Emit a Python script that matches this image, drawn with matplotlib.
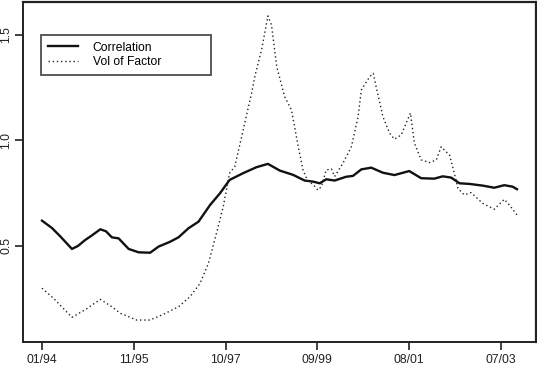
import numpy as np
import matplotlib
matplotlib.use("Agg")
import matplotlib.pyplot as plt

plt.rcParams['font.family'] = ['Liberation Sans', 'DejaVu Sans']

# month index (0 = 01/94) and values
corr_month = [0, 2.5, 4.6, 7.5, 9, 10.8, 12.5, 14.6, 16, 17.5, 19.2, 21.7, 24.2, 27.1,
              29.2, 32.1, 34.2, 36.7, 39.2, 42.1, 44.6, 47, 50.4, 53.7, 56.6, 59.6,
              62.9, 65.8, 67.9, 69.6, 71.2, 73.3, 76.2, 77.9, 80, 82.5, 85.4, 88.3,
              92, 95, 98.3, 100.4, 102.5, 104.6, 107.1, 110.4, 113.3, 115.8, 117.9, 119]
corr_vals = [0.62, 0.585, 0.545, 0.486, 0.50, 0.528, 0.55, 0.579, 0.57, 0.541, 0.536,
             0.486, 0.47, 0.468, 0.497, 0.52, 0.541, 0.584, 0.615, 0.694, 0.75, 0.813,
             0.845, 0.873, 0.889, 0.857, 0.837, 0.81, 0.805, 0.797, 0.816, 0.81, 0.828,
             0.832, 0.863, 0.871, 0.847, 0.836, 0.855, 0.821, 0.819, 0.83, 0.824, 0.797,
             0.794, 0.786, 0.776, 0.788, 0.781, 0.769]

vol_month = [0, 3, 7.5, 11, 14.6, 17.5, 19.6, 21.7, 23.7, 27, 30.4, 34.2, 37.1, 39.6,
             41.7, 43.7, 45.4, 47, 48.3, 50.4, 52.5, 53.4, 55, 56.6, 57.5, 58.8, 60.8,
             62.5, 64.2, 65.4, 66.5, 68, 69.1, 70, 71.2, 72.5, 73.3, 75.4, 77.5, 79.2,
             80, 82.1, 83, 83.7, 85.4, 87.1, 88.3, 90, 92.3, 93.3, 95, 97.1, 98.8, 100,
             101.2, 102.1, 103.3, 104.2, 105.8, 107.5, 110.4, 113.3, 115.8, 117.1, 119]
vol_vals = [0.30, 0.25, 0.162, 0.20, 0.247, 0.212, 0.181, 0.165, 0.149, 0.149, 0.176,
            0.212, 0.26, 0.323, 0.418, 0.56, 0.686, 0.845, 0.876, 1.05, 1.224, 1.31,
            1.429, 1.59, 1.547, 1.35, 1.207, 1.145, 0.97, 0.86, 0.81, 0.79, 0.765, 0.781,
            0.86, 0.865, 0.829, 0.892, 0.97, 1.113, 1.239, 1.302, 1.318, 1.255, 1.113,
            1.034, 1.006, 1.026, 1.13, 0.987, 0.908, 0.895, 0.908, 0.97, 0.947, 0.931,
            0.845, 0.773, 0.742, 0.753, 0.702, 0.674, 0.721, 0.694, 0.647]

tick_pos = [0, 23, 46, 69, 92, 115]
tick_labels = ['01/94', '11/95', '10/97', '09/99', '08/01', '07/03']
ytick_pos = [0.5, 1.0, 1.5]

W, H = 537, 369
fig = plt.figure(figsize=(W / 100, H / 100), dpi=100)
ax = fig.add_axes([23 / W, (H - 342) / H, 513 / W, 340 / H])

ax.plot(corr_month, corr_vals, color='#111111', lw=1.7, label='Correlation')
ax.plot(vol_month, vol_vals, color='#222222', lw=1.0, linestyle=(0, (1, 2)),
        label='Vol of Factor')

ax.set_xlim(-4.76, 123.76)
ax.set_ylim(0.045, 1.656)

ax.set_xticks(tick_pos)
ax.set_xticklabels(tick_labels)
ax.set_yticks(ytick_pos)
ax.set_yticklabels(['0.5', '1.0', '1.5'], rotation=90, va='center')
ax.tick_params(direction='out', length=6, width=1.2, labelsize=8.7, colors='#222222')
ax.tick_params(axis='x', pad=2.5)
ax.tick_params(axis='y', pad=1.5)

ax.spines['top'].set_visible(False)
ax.spines['right'].set_visible(False)
for s in ['left', 'bottom']:
    ax.spines[s].set_linewidth(1.4)
    ax.spines[s].set_color('#222222')
# R box: top/right drawn as plain frame lines
ax.axhline(1.656, color='#222222', lw=1.6, clip_on=False)
ax.axvline(123.76, color='#222222', lw=1.6, clip_on=False)

leg = ax.legend(loc='upper left', bbox_to_anchor=(0.0357, 0.781, 0.331, 0.122),
                mode='expand', fontsize=8.7, frameon=True, fancybox=False,
                handlelength=2.5, handletextpad=1.2, borderpad=0.55,
                labelspacing=0.2, borderaxespad=0)
leg.get_frame().set_edgecolor('#222222')
leg.get_frame().set_linewidth(1.3)

fig.savefig('out.png', dpi=100)
